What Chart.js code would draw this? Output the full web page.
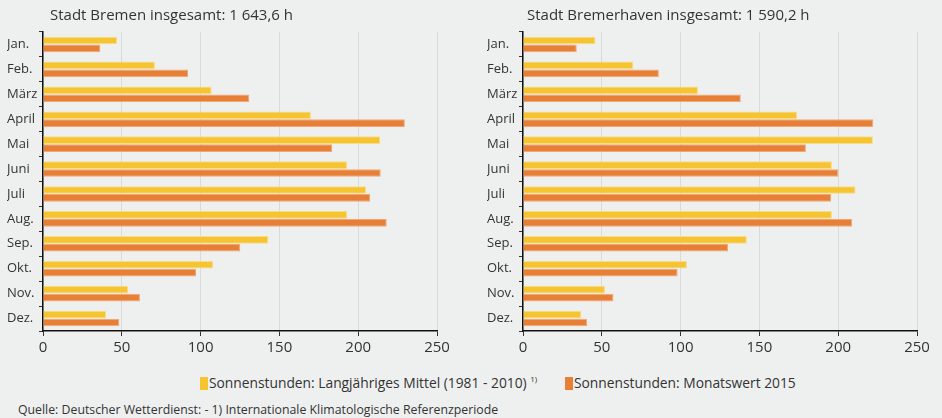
<!DOCTYPE html>
<html>
<head>
<meta charset="utf-8">
<script src="https://cdn.jsdelivr.net/npm/chart.js@4"></script>
<style>
  body{margin:0;background:#eef0ef;font-family:"Open Sans",sans-serif;color:#333;}
  #page{position:relative;width:942px;height:418px;overflow:hidden;}
  .box{position:absolute;top:0;height:365px;}
  .title{position:absolute;top:4px;font-size:15px;color:#333;white-space:nowrap;}
  #legend{position:absolute;top:373px;left:0;width:942px;font-size:13.8px;white-space:nowrap;}
  .item{position:absolute;top:0;}
  .sw{display:inline-block;width:8px;height:13px;vertical-align:-2px;margin-right:1px;}
  sup{font-size:8px;vertical-align:6px;}
  #source{position:absolute;top:401px;left:18px;font-size:12.3px;white-space:nowrap;}
</style>
</head>
<body>
<div id="page">
  <div class="box" style="left:0;width:470px"><canvas id="bremen"></canvas></div>
  <div class="box" style="left:470px;width:472px"><canvas id="bhv"></canvas></div>
  <div class="title" style="left:50px">Stadt Bremen insgesamt: 1 643,6 h</div>
  <div class="title" style="left:527px">Stadt Bremerhaven insgesamt: 1 590,2 h</div>
  <div id="legend">
    <span class="item" style="left:200px"><span class="sw" style="background:#f6c331"></span>Sonnenstunden: Langjähriges Mittel (1981 - 2010) <sup>1)</sup></span>
    <span class="item" style="left:565px"><span class="sw" style="background:#e77f36"></span>Sonnenstunden: Monatswert 2015</span>
  </div>
  <div id="source">Quelle: Deutscher Wetterdienst: - 1) Internationale Klimatologische Referenzperiode</div>
</div>
<script>
//data
const months=['Jan.','Feb.','März','April','Mai','Juni','Juli','Aug.','Sep.','Okt.','Nov.','Dez.'];
const bremenMittel=[47, 71, 107, 170, 214, 193, 205, 193, 143, 108, 54, 40];
const bremen2015=[36.4, 92.1, 130.9, 229.6, 183.4, 214.3, 207.6, 218.1, 125.2, 97.1, 61.5, 48.4];
const bhvMittel=[46, 70, 111, 174, 222, 196, 211, 196, 142, 104, 52, 37];
const bhv2015=[34.1, 86.2, 138.2, 222.3, 179.5, 200.1, 195.5, 208.9, 130.2, 98.1, 57.4, 40.6];
const xTicks=[0, 50, 100, 150, 200, 250];

const yellow='#f6c331';
const orange='#e77f36';

//builds one chart, padLeft/padRight place the plot area
function makeChart(id, mittel, monat, padLeft, padRight){
    const data={
        labels: months,
        datasets: [
            {label:'Sonnenstunden: Langjähriges Mittel (1981 - 2010)', data:mittel, backgroundColor:yellow, borderColor:'#f9dc86', borderWidth:1},
            {label:'Sonnenstunden: Monatswert 2015', data:monat, backgroundColor:orange, borderColor:'#f0a676', borderWidth:1}
        ]
    };
    const config={
        type:'bar',
        data:data,
        options:{
            indexAxis:'y',
            responsive:true,
            maintainAspectRatio:false,
            animation:false,
            categoryPercentage:0.64,
            barPercentage:0.96,
            layout:{padding:{left:padLeft, right:padRight, top:32, bottom:4}},
            plugins:{legend:{display:false}, tooltip:{enabled:false}},
            scales:{
                x:{
                    min:xTicks[0],
                    max:xTicks[xTicks.length-1],
                    ticks:{stepSize:xTicks[1]-xTicks[0], color:'#333', font:{family:'Open Sans', size:15}, padding:3},
                    grid:{color:'#d9dbda', tickColor:'#333', tickLength:5},
                    border:{color:'#111', width:1.5},
                    afterFit:(s)=>{s.height=30;}
                },
                y:{
                    ticks:{color:'#333', font:{family:'Open Sans', size:13}, crossAlign:'far', padding:6},
                    grid:{drawOnChartArea:false, tickColor:'#333', tickLength:4, offset:true},
                    border:{color:'#111', width:1.5},
                    afterFit:(s)=>{s.width=36;}
                }
            }
        }
    };
    return new Chart(document.getElementById(id), config);
}

makeChart('bremen', bremenMittel, bremen2015, 7, 33);
makeChart('bhv', bhvMittel, bhv2015, 17, 25);
</script>
</body>
</html>
